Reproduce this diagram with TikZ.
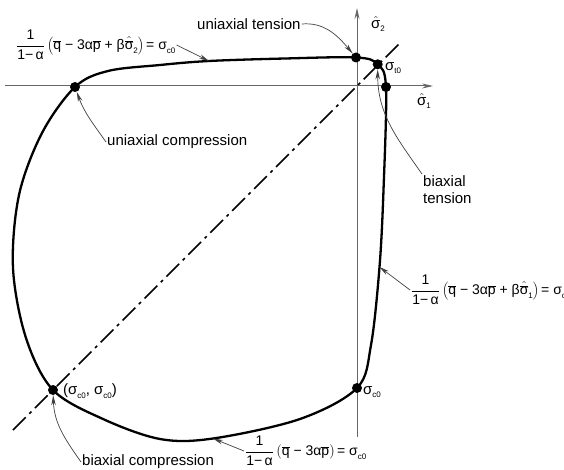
\documentclass[tikz,border=0pt]{standalone}
\usepackage{fontspec}
\setmainfont{Liberation Sans}
\usetikzlibrary{arrows.meta}
\newcommand\mysub[1]{\raisebox{-0.45ex}{\fontsize{8}{8}\selectfont #1}}
\newcommand\qb{\overline{\mbox{q}}}
\newcommand\pb{\overline{\mbox{p}}}
\newcommand\shb[1]{\hat{\overline{\mbox{σ}}}\mbox{\mysub{#1}}}
\newcommand\frc{\displaystyle\frac{\mbox{1}}{\mbox{1−\,α}}}
\begin{document}
\begin{tikzpicture}[x=1pt,y=1pt,
  lbl/.style={font=\fontsize{15}{17}\selectfont, inner sep=1pt},
  fml/.style={font=\fontsize{14}{16}\selectfont, inner sep=1pt},
  dot/.style={circle, fill=black, inner sep=0pt, minimum size=10pt},
  axisline/.style={draw=black!60, line width=1pt, -{Stealth[length=11pt,width=5pt]}},
  arr/.style={draw=black!75, line width=0.7pt, -{Stealth[length=10pt,width=4.5pt]}},
  surf/.style={draw=black, line width=2.3pt},
  diag/.style={draw=black, line width=1.6pt, dash pattern=on 18pt off 5pt on 3pt off 5pt}]
\useasboundingbox (0,0) rectangle (564,-470);
% axes
\coordinate (h0) at (5,-86);
\coordinate (h1) at (433,-86);
\coordinate (v0) at (357,-437);
\coordinate (v1) at (357,-8);
\draw[axisline] (h0) -- (h1);
\draw[axisline] (v0) -- (v1);
% diagonal
\coordinate (d0) at (13,-430);
\coordinate (d1) at (400,-43);
\draw[diag] (d0) -- (d1);
% yield surface
\draw[surf] plot[smooth cycle, tension=0.55] coordinates {
 (75,-87) (108,-71) (160,-65) (209,-61) (285,-58.5) (356,-57.5)
 (377.7,-64.3) (386,-88) (383.5,-190) (379.5,-267) (371,-345)
 (357,-388) (300,-419) (213,-438.5) (160,-439) (103,-419) (53,-390)
 (26,-338) (13,-268) (19,-195) (42,-133)};
\coordinate (p1) at (209,-61);
\coordinate (p2) at (379.5,-267);
\coordinate (p3) at (213,-438.5);
% dots
\node[dot] (uc) at (75,-87) {};
\node[dot] (ut) at (356,-57.5) {};
\node[dot] (st) at (377.7,-64.3) {};
\node[dot] (bt) at (386,-87) {};
\node[dot] (sc) at (357,-388) {};
\node[dot] (bc) at (53,-390) {};
% axis labels
\node[lbl] (s2) at (378,-24) {$\hat{\mbox{σ}}$\mysub{2}};
\node[lbl] (s1) at (424,-101) {$\hat{\mbox{σ}}$\mysub{1}};
% point labels
\node[lbl, anchor=west] (stl) at (384,-68) {σ\mysub{t0}};
\node[lbl, anchor=west] (scl) at (362,-392) {σ\mysub{c0}};
\node[lbl, anchor=west] (bcp) at (62,-391) {(σ\mysub{c0}, σ\mysub{c0})};
% text labels
\node[lbl, anchor=west] (utl) at (196,-24) {uniaxial tension};
\node[lbl, anchor=west] (ucl) at (106,-142) {uniaxial compression};
\node[lbl, anchor=north west, align=left] (btl) at (422,-174) {biaxial\\tension};
\node[lbl, anchor=west] (bcl) at (81,-462) {biaxial compression};
% formulas
\node[fml, anchor=west] (f1) at (15,-45) {$\frc\left(\qb\mbox{ − 3α}\pb\mbox{ + β}\shb{2}\right)\mbox{= σ\mysub{c0}}$};
\node[fml, anchor=west] (f2) at (410,-290) {$\frc\left(\qb\mbox{ − 3α}\pb\mbox{ + β}\shb{1}\right)\mbox{= σ\mysub{c0}}$};
\node[fml, anchor=west] (f3) at (244,-451) {$\frc\left(\qb\mbox{ − 3α}\pb\right)\mbox{= σ\mysub{c0}}$};
% arrows
\draw[arr] (utl.east) to[out=5,in=130] (ut);
\draw[arr] (ucl.west) to[out=125,in=-70] (uc);
\draw[arr] (btl.north west) to[out=125,in=-90] (st.south);
\draw[arr] (bcl.west) to[out=125,in=-88] (bc);
\draw[arr] (f1.east) -- (p1);
\draw[arr] (f2.west) -- (p2);
\draw[arr] (f3.west) -- (p3);
\end{tikzpicture}
\end{document}
